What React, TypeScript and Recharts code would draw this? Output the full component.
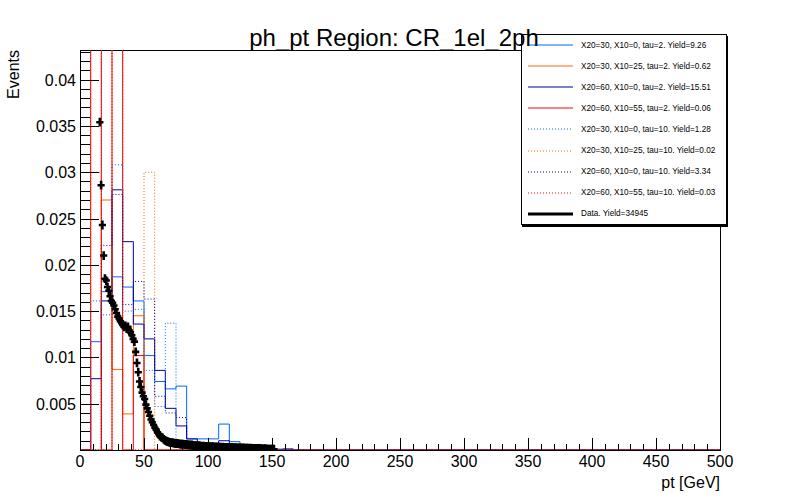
import React from 'react';
import { ComposedChart, XAxis, YAxis, Line, Scatter, Legend } from 'recharts';

const FONT = '"Liberation Sans", Arial, Helvetica, sans-serif';

// signal histograms: 60 bins of 500/60 GeV, bins past the end of each list are empty
const BIN_WIDTH = 500 / 60;
const blueSolid = [0, 0.0117, 0.0171, 0.0187, 0.0176, 0.0161, 0.0102, 0.0074, 0.0066, 0.0069, 0.0012, 0.0012, 0.0012, 0.0028, 0.0009, 0.0003, 0.0003, 0, 0.0001, 0.0001];
const orangeSolid = [0, 0, 0.027, 0.0087, 0.0039, 0.0145];
const navySolid = [0, 0.0077, 0.0161, 0.0281, 0.0225, 0.0136, 0.012, 0.0086, 0.0045, 0.0026, 0.0012, 0.0007, 0.0007, 0.001, 0.0004, 0.0002, 0.0002, 0.0001, 0, 0.0001];
const redSolid = [0, 0.248, 0, 0.331, 0, 0.0102];
const blueDotted = [0, 0.0161, 0.0146, 0.0308, 0.015, 0.0152, 0.0086, 0.0047, 0.0137];
const orangeDotted = [0, 0.03, 0, 0.46, 0, 0, 0.03];
const navyDotted = [0, 0, 0.0221, 0.0276, 0.0157, 0.0182, 0.0163, 0.0058, 0.004, 0.0035, 0.0005, 0.0003];
const redDotted = [0, 0.21, 0, 0.39];

// data: 1 GeV bins starting at 15 GeV
const DATA_START = 15;
const dataValues = [
  0.0354, 0.0286, 0.0243, 0.021, 0.0185, 0.0183, 0.0176, 0.0172, 0.0166, 0.0161,
  0.0159, 0.0156, 0.0152, 0.0148, 0.0144, 0.0142, 0.0139, 0.0137, 0.0135, 0.0133,
  0.0134, 0.0131, 0.0133, 0.0129, 0.0127, 0.0124, 0.012, 0.0117, 0.0106, 0.0094,
  0.0084, 0.0074, 0.0068, 0.0062, 0.0058, 0.0055, 0.0049, 0.0045, 0.0041, 0.0037,
  0.0033, 0.003, 0.0027, 0.0024, 0.0022, 0.0019, 0.0017, 0.0015, 0.0014, 0.0013,
  0.00115, 0.00105, 0.00095, 0.0009, 0.00086, 0.00082, 0.0008, 0.00077, 0.00074, 0.0007,
  0.00071, 0.00068, 0.00066, 0.00064, 0.00062, 0.00063, 0.0006, 0.00058, 0.00057, 0.00055,
  0.00056, 0.00052, 0.00054, 0.0005, 0.00048, 0.00047, 0.00045, 0.00046, 0.00043, 0.00042,
  0.0004, 0.00041, 0.00038, 0.00039, 0.00036, 0.00037, 0.00035, 0.00034, 0.00036, 0.00033,
  0.00032, 0.00034, 0.00031, 0.0003, 0.00032, 0.00029, 0.0003, 0.00028, 0.00029, 0.00027,
  0.00028, 0.00026, 0.00027, 0.00025, 0.00026, 0.00024, 0.00025, 0.00023, 0.00024, 0.00022,
  0.00023, 0.00021, 0.00022, 0.0002, 0.00021, 0.00019, 0.0002, 0.00018, 0.00019, 0.00017,
  0.00018, 0.00016, 0.00017, 0.00015, 0.00016, 0.00014, 0.00015, 0.00013, 0.00012, 0.00014,
  0.00011, 0.0001, 0.0001, 0.00009, 0.0001, 0.00008, 0.00008,
];

const legendLabels = [
  'X20=30, X10=0, tau=2. Yield=9.26',
  'X20=30, X10=25, tau=2. Yield=0.62',
  'X20=60, X10=0, tau=2. Yield=15.51',
  'X20=60, X10=55, tau=2. Yield=0.06',
  'X20=30, X10=0, tau=10. Yield=1.28',
  'X20=30, X10=25, tau=10. Yield=0.02',
  'X20=60, X10=0, tau=10. Yield=3.34',
  'X20=60, X10=55, tau=10. Yield=0.03',
  'Data. Yield=34945',
];

const xTicks = [0, 10, 20, 30, 40, 50, 60, 70, 80, 90, 100, 110, 120, 130, 140, 150, 160, 170, 180, 190, 200, 210, 220, 230, 240, 250, 260, 270, 280, 290, 300, 310, 320, 330, 340, 350, 360, 370, 380, 390, 400, 410, 420, 430, 440, 450, 460, 470, 480, 490, 500];
const xMajor = [0, 50, 100, 150, 200, 250, 300, 350, 400, 450, 500];
const yTicks = [0.001, 0.002, 0.003, 0.004, 0.005, 0.006, 0.007, 0.008, 0.009, 0.01, 0.011, 0.012, 0.013, 0.014, 0.015, 0.016, 0.017, 0.018, 0.019, 0.02, 0.021, 0.022, 0.023, 0.024, 0.025, 0.026, 0.027, 0.028, 0.029, 0.03, 0.031, 0.032, 0.033, 0.034, 0.035, 0.036, 0.037, 0.038, 0.039, 0.04, 0.041, 0.042, 0.043];
const yMajor = [0.005, 0.01, 0.015, 0.02, 0.025, 0.03, 0.035, 0.04];
const yMajorText = ['0.005', '0.01', '0.015', '0.02', '0.025', '0.03', '0.035', '0.04'];

const Y_MAX = 0.0432;

const histPoints = (bins: number[]) => {
  const pts = bins.map((v, i) => ({ x: i * BIN_WIDTH, y: v }));
  pts.push({ x: bins.length * BIN_WIDTH, y: 0 });
  pts.push({ x: 500, y: 0 });
  return pts;
};

const series = [
  { name: legendLabels[0], bins: blueSolid, color: '#0066ff', dash: undefined },
  { name: legendLabels[1], bins: orangeSolid, color: '#ff6600', dash: undefined },
  { name: legendLabels[2], bins: navySolid, color: '#000099', dash: undefined },
  { name: legendLabels[3], bins: redSolid, color: '#ff0000', dash: undefined },
  { name: legendLabels[4], bins: blueDotted, color: '#0066ff', dash: '1 2' },
  { name: legendLabels[5], bins: orangeDotted, color: '#ff6600', dash: '1 2' },
  { name: legendLabels[6], bins: navyDotted, color: '#000099', dash: '1 2' },
  { name: legendLabels[7], bins: redDotted, color: '#ff0000', dash: '1 2' },
];

const dataPoints = dataValues.map((v, i) => ({ x: DATA_START + i + 0.5, y: v }));

const XTick = (props: any) => {
  const { x, y, payload } = props;
  const v = payload.value;
  const major = xMajor.indexOf(v) >= 0;
  const px = Math.round(x) + 0.5;
  return (
    <g>
      <line x1={px} x2={px} y1={y} y2={y - (major ? 12 : 6)} stroke="#000" strokeWidth={1} />
      {major && (
        <text x={x} y={y + 17} textAnchor="middle" fontSize={16} fontFamily={FONT} fill="#000">
          {String(v)}
        </text>
      )}
    </g>
  );
};

const YTick = (props: any) => {
  const { x, y, payload } = props;
  const idx = yMajor.findIndex((m) => Math.abs(m - payload.value) < 1e-9);
  const py = Math.round(y) + 0.5;
  return (
    <g>
      <line x1={x} x2={x + (idx >= 0 ? 19 : 10)} y1={py} y2={py} stroke="#000" strokeWidth={1} />
      {idx >= 0 && (
        <text x={x - 4} y={y + 6} textAnchor="end" fontSize={16} fontFamily={FONT} fill="#000">
          {yMajorText[idx]}
        </text>
      )}
    </g>
  );
};

const CrossMarker = (props: any) => {
  const { cx, cy } = props;
  if (cx == null || cy == null) return null;
  const a = 3.6;
  const t = 1.3;
  const v = 4.4;
  return (
    <path
      d={`M${cx - t},${cy - v}H${cx + t}V${cy - t}H${cx + a}V${cy + t}H${cx + t}V${cy + v}H${cx - t}V${cy + t}H${cx - a}V${cy - t}H${cx - t}Z`}
      fill="#000"
    />
  );
};

const LegendBox = () => (
  <div
    style={{
      position: 'relative',
      width: 206,
      height: 191,
      boxSizing: 'border-box',
      border: '1px solid #000',
      background: '#fff',
      boxShadow: '1px 2px 0 #000',
      fontFamily: FONT,
      fontSize: 8.2,
      color: '#000',
    }}
  >
    {legendLabels.map((label, i) => {
      const s = series[i];
      return (
        <div
          key={label}
          style={{ position: 'absolute', left: 6, top: 4 + i * 21.1, height: 12, display: 'flex', alignItems: 'center' }}
        >
          <svg width={45} height={12} style={{ display: 'block' }}>
            <line
              x1={0}
              x2={45}
              y1={6}
              y2={6}
              stroke={s ? s.color : '#000'}
              strokeWidth={s ? 1 : 3}
              strokeDasharray={s ? s.dash : undefined}
            />
          </svg>
          <span style={{ marginLeft: 8, whiteSpace: 'nowrap' }}>{label}</span>
        </div>
      );
    })}
  </div>
);

export default function App() {
  return (
    <div style={{ position: 'absolute', left: 0, top: 0, width: 800, height: 500, background: '#fff' }}>
      <div
        style={{
          position: 'absolute',
          left: 80,
          top: 50,
          width: 641,
          height: 401,
          boxSizing: 'border-box',
          border: '1px solid #000',
        }}
      />
      <div style={{ position: 'absolute', left: 0, top: 0 }}>
        <ComposedChart width={800} height={500} margin={{ top: 50, right: 80, bottom: 0, left: 0 }}>
          <XAxis
            type="number"
            dataKey="x"
            domain={[0, 500]}
            ticks={xTicks}
            interval={0}
            tickSize={0}
            tickMargin={0}
            axisLine={false}
            tickLine={false}
            tick={(p: any) => <XTick {...p} />}
            height={50}
            allowDataOverflow
          />
          <YAxis
            type="number"
            dataKey="y"
            domain={[0, Y_MAX]}
            ticks={yTicks}
            interval={0}
            tickSize={0}
            tickMargin={0}
            axisLine={false}
            tickLine={false}
            tick={(p: any) => <YTick {...p} />}
            width={80}
            allowDataOverflow
          />
          {series.map((s) => (
            <Line
              key={s.name}
              name={s.name}
              data={histPoints(s.bins)}
              dataKey="y"
              type="stepAfter"
              stroke={s.color}
              strokeWidth={1}
              strokeDasharray={s.dash}
              dot={false}
              activeDot={false}
              isAnimationActive={false}
            />
          ))}
          <Scatter
            name="Data"
            data={dataPoints}
            dataKey="y"
            fill="#000"
            shape={(p: any) => <CrossMarker {...p} />}
            isAnimationActive={false}
          />
          <Legend
            layout="vertical"
            align="center"
            verticalAlign="middle"
            content={() => <LegendBox />}
            wrapperStyle={{ left: 521, top: 34, width: 206, height: 191 }}
          />
        </ComposedChart>
      </div>
      <svg
        width={800}
        height={500}
        style={{ position: 'absolute', left: 0, top: 0, pointerEvents: 'none' }}
      >
        <text x={394} y={46} textAnchor="middle" fontSize={24} fontFamily={FONT} fill="#000">
          ph_pt Region: CR_1el_2ph
        </text>
        <text
          x={19}
          y={50}
          textAnchor="end"
          fontSize={16}
          fontFamily={FONT}
          fill="#000"
          transform="rotate(-90 19 50)"
        >
          Events
        </text>
        <text x={720} y={488} textAnchor="end" fontSize={16} fontFamily={FONT} fill="#000">
          pt [GeV]
        </text>
      </svg>
    </div>
  );
}
